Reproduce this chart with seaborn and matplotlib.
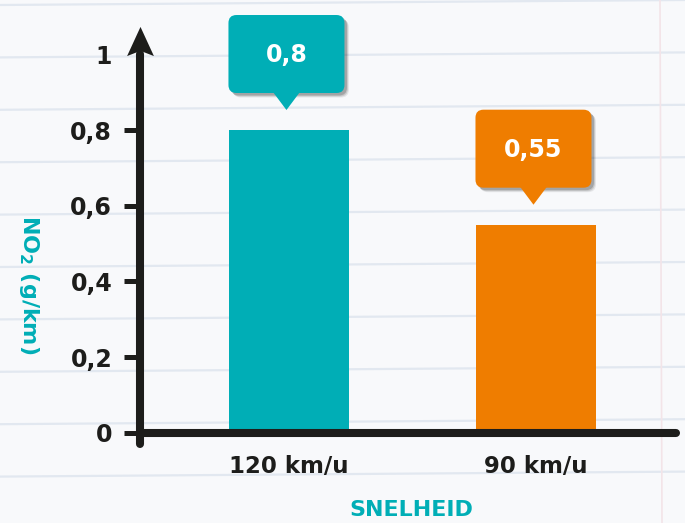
import numpy as np
import pandas as pd
import matplotlib
matplotlib.use("Agg")
import matplotlib.pyplot as plt
import seaborn as sns
from matplotlib.patches import FancyBboxPatch, Polygon
from matplotlib.transforms import ScaledTranslation
from matplotlib.path import Path

# ---- data ----
categories = ["120 km/u", "90 km/u"]
values = [0.8, 0.55]
value_labels = ["0,8", "0,55"]
bar_colors = ["#00aeb6", "#ef7d00"]
y_ticks = [0, 0.2, 0.4, 0.6, 0.8, 1.0]
y_tick_labels = ["0", "0,2", "0,4", "0,6", "0,8", "1"]
x_title = "SNELHEID"
y_title = r"NO$_\mathbf{2}$ (g/km)"

DARK = "#1d1d1b"
TEAL = "#00aeb6"

sns.set_theme(style="white")
plt.rcParams["font.family"] = ["DejaVu Sans"]

fig = plt.figure(figsize=(6.85, 5.23), dpi=100)
fig.patch.set_facecolor("#f8f9fb")

# ---- notebook paper background ----
bg = fig.add_axes([0, 0, 1, 1], zorder=-10)
bg.set_xlim(0, 685)
bg.set_ylim(523, 0)
bg.axis("off")
for k in range(11):
    y0 = 5 + 52.4 * k
    bg.plot([0, 685], [y0, y0 - 5], color="#e2e8f0", lw=1.6)
bg.plot([660, 662], [0, 523], color="#f3e4e8", lw=1.2)

# ---- main axes ----
ax = fig.add_axes([140 / 685, 76 / 523, 540 / 685, 420 / 523])
ax.set_facecolor("none")
df = pd.DataFrame({"snelheid": categories, "no2": values})
sns.barplot(data=df, x="snelheid", y="no2", hue="snelheid", palette=bar_colors,
            width=0.486, legend=False, ax=ax, saturation=1, linewidth=0)

# callouts
for i, (v, lab, col) in enumerate(zip(values, value_labels, bar_colors)):
    trans = fig.dpi_scale_trans + ScaledTranslation(i, v, ax.transData)
    bx, by, bw, bh = -0.605, 0.37, 1.16, 0.78
    for dd, al in [(0.045, 0.08), (0.035, 0.12), (0.025, 0.18)]:
        shadow = FancyBboxPatch((bx + dd, by - dd), bw, bh,
                                boxstyle="round,pad=0,rounding_size=0.08",
                                fc="black", ec="none", alpha=al,
                                transform=trans, clip_on=False)
        ax.add_patch(shadow)
    box = FancyBboxPatch((bx, by), bw, bh,
                         boxstyle="round,pad=0,rounding_size=0.08",
                         fc=col, ec="none", transform=trans, clip_on=False)
    ax.add_patch(box)
    tri = Polygon([(-0.16, by + 0.01), (0.11, by + 0.01), (-0.025, 0.20)],
                  closed=True, fc=col, ec="none", transform=trans, clip_on=False)
    ax.add_patch(tri)
    ax.text(-0.025, by + bh / 2 - 0.01, lab, transform=trans, ha="center", va="center",
            color="white", fontsize=17, fontweight="bold")

ax.set_xlim(-0.603, 1.583)
ax.set_ylim(-0.037, 1.072)

# spines
for s in ["top", "right"]:
    ax.spines[s].set_visible(False)
ax.spines["left"].set_linewidth(5.8)
ax.spines["left"].set_color(DARK)
ax.spines["left"].set_bounds(-0.029, 1.0)
ax.spines["left"].set_capstyle("round")
ax.spines["bottom"].set_position(("data", 0))
ax.spines["bottom"].set_linewidth(5.8)
ax.spines["bottom"].set_color(DARK)
ax.spines["bottom"].set_bounds(-0.603, 1.568)
ax.spines["bottom"].set_capstyle("round")

# arrow head on y axis
arrow = Path([(0, 0.5), (-0.46, -0.5), (0, -0.32), (0.46, -0.5), (0, 0.5)],
             [Path.MOVETO, Path.LINETO, Path.LINETO, Path.LINETO, Path.CLOSEPOLY])
ax.plot([0], [1.035], marker=arrow, ms=21, mfc=DARK, mec=DARK, mew=0,
        transform=ax.get_yaxis_transform(), clip_on=False, ls="none")

# ticks
ax.set_yticks(y_ticks, y_tick_labels, fontweight="bold")
ax.tick_params(axis="y", left=True, length=11.5, width=3.6, color=DARK,
               pad=8.5, labelsize=17, labelcolor=DARK, direction="out")
ax.yaxis.get_major_ticks()[-1].tick1line.set_visible(False)
ax.set_xticks(range(len(categories)), categories, fontweight="bold")
ax.tick_params(axis="x", bottom=False, length=0, pad=16, labelsize=16.5, labelcolor=DARK)

# axis titles
ax.set_xlabel(x_title, color=TEAL, fontsize=16, fontweight="bold")
ax.xaxis.set_label_coords(0.502, -0.15)
ax.xaxis.label.set_va("center")
ax.set_ylabel(y_title, color=TEAL, fontsize=16, fontweight="bold", rotation=-90)
ax.yaxis.set_label_coords(-0.2056, 0.386)
ax.yaxis.label.set_va("center")
ax.yaxis.label.set_ha("center")

fig.savefig("out.png", dpi=100, facecolor=fig.get_facecolor())
